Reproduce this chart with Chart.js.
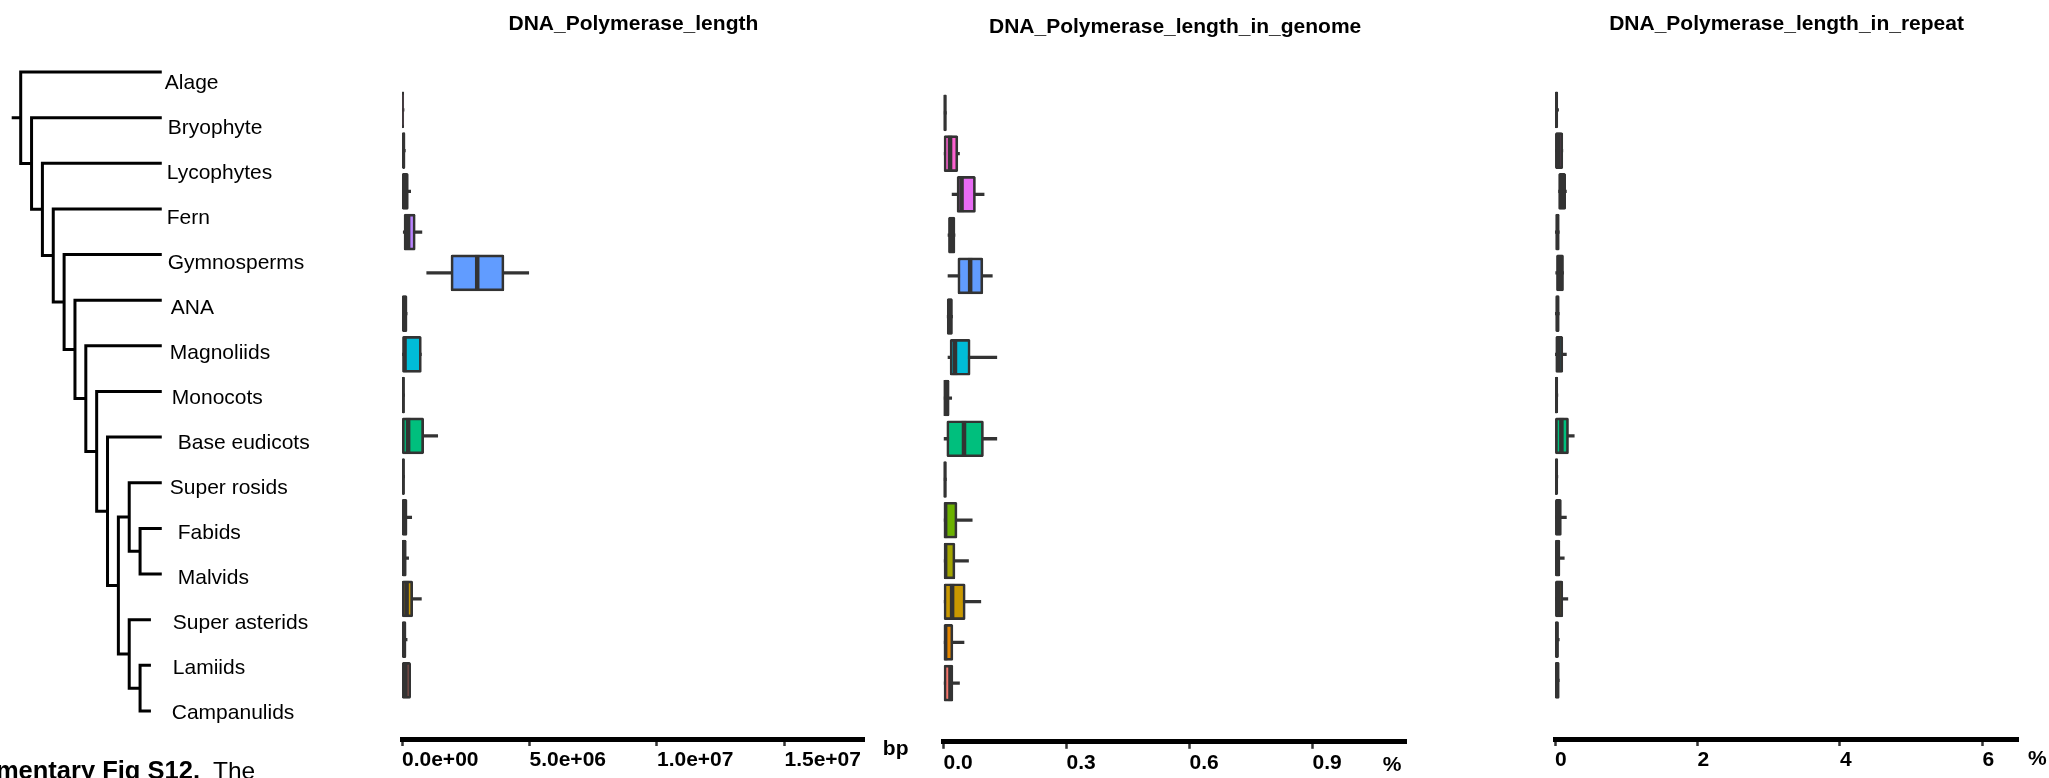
<!DOCTYPE html>
<html>
<head>
<meta charset="utf-8">
<script src="https://cdn.jsdelivr.net/npm/chart.js@4.4.0/dist/chart.umd.min.js"></script>
<style>
  body { margin: 0; background: #fff; width: 2049px; height: 778px; overflow: hidden; position: relative;
         font-family: "Liberation Sans", Arial, Helvetica, sans-serif; }
  canvas { position: absolute; top: 0; }
  .cap { position: absolute; top: 758px; line-height: 25px; white-space: nowrap; color: #000; }
</style>
</head>
<body>
<canvas id="tree" width="380" height="778" style="left:0"></canvas>
<canvas id="p1" width="560" height="778" style="left:370px"></canvas>
<canvas id="p2" width="560" height="778" style="left:900px"></canvas>
<canvas id="p3" width="549" height="778" style="left:1500px"></canvas>
<div class="cap" style="right:1849px;font-weight:bold;font-size:25.5px">Supplementary Fig S12.</div>
<div class="cap" style="left:213px;font-size:24.5px">The</div>

<script>
const groups = ['Alage', 'Bryophyte', 'Lycophytes', 'Fern', 'Gymnosperms', 'ANA', 'Magnoliids', 'Monocots',
  'Base eudicots', 'Super rosids', 'Fabids', 'Malvids', 'Super asterids', 'Lamiids', 'Campanulids'];
const groupColors = ['#FF67A4', '#FD61D1', '#E76BF3', '#B983FF', '#619CFF', '#00B0F6', '#00BCD8', '#00C0AF',
  '#00BF7D', '#00BA38', '#6BB100', '#A3A500', '#C99800', '#E58700', '#F8766D'];

// cladogram topology, tips end at these depths
const tree = ['Alage', ['Bryophyte', ['Lycophytes', ['Fern', ['Gymnosperms', ['ANA', ['Magnoliids', ['Monocots',
  ['Base eudicots', [['Super rosids', ['Fabids', 'Malvids']], ['Super asterids', ['Lamiids', 'Campanulids']]]]]]]]]]]];
const tipEnd = [13, 13, 13, 13, 13, 13, 13, 13, 13, 13, 13, 13, 12, 12, 12];

const titles = ['DNA_Polymerase_length', 'DNA_Polymerase_length_in_genome', 'DNA_Polymerase_length_in_repeat'];
const units = ['bp', '%', '%'];
const lenTicks = [0, 5e6, 1e7, 1.5e7];
const genTicks = [0, 0.3, 0.6, 0.9];
const repTicks = [0, 2, 4, 6];

// DNA_Polymerase_length (bp)
const lenMin = [0, 0, 0, 5e4, 9.7e5, 0, 0, 0, 0, 0, 0, 0, 0, 0, 0];
const lenQ1  = [5e3, 1e4, 1e4, 8e4, 1.92e6, 1e4, 2e4, 5e3, 1e4, 5e3, 5e3, 5e3, 5e3, 5e3, 5e3];
const lenMed = [3e4, 5e4, 1e5, 2.4e5, 2.95e6, 8e4, 1e5, 4e4, 2.4e5, 4e4, 8e4, 7e4, 1.8e5, 6e4, 1.4e5];
const lenQ3  = [7e4, 1.2e5, 2.5e5, 5.2e5, 4.0e6, 2e5, 7.6e5, 1e5, 8.5e5, 1e5, 2e5, 1.7e5, 4.2e5, 1.6e5, 3.4e5];
const lenMax = [8e4, 1.3e5, 3.4e5, 7.8e5, 4.97e6, 2e5, 7.6e5, 1e5, 1.4e6, 1e5, 3.8e5, 2.6e5, 7.6e5, 2e5, 3.4e5];

// DNA_Polymerase_length_in_genome (%)
const genMin = [0, 0, 0.021, 0.011, 0.011, 0.009, 0.011, 0, 0.001, 0, 0, 0, 0, 0, 0];
const genQ1  = [0, 0.001, 0.033, 0.012, 0.035, 0.009, 0.016, 0, 0.008, 0, 0.001, 0.001, 0.001, 0.001, 0.001];
const genMed = [0.003, 0.016, 0.044, 0.02, 0.065, 0.015, 0.028, 0.005, 0.05, 0.003, 0.004, 0.004, 0.021, 0.004, 0.017];
const genQ3  = [0.007, 0.035, 0.078, 0.028, 0.096, 0.022, 0.065, 0.014, 0.0975, 0.007, 0.033, 0.028, 0.053, 0.023, 0.023];
const genMax = [0.007, 0.039, 0.099, 0.028, 0.119, 0.022, 0.13, 0.02, 0.13, 0.007, 0.07, 0.061, 0.091, 0.05, 0.039];

// DNA_Polymerase_length_in_repeat (%)
const repMin = [0, 0, 0.05, 0.005, 0.01, 0.005, 0.005, 0, 0, 0, 0, 0, 0, 0, 0];
const repQ1  = [0.002, 0.005, 0.05, 0.01, 0.02, 0.01, 0.01, 0.002, 0.005, 0.002, 0.005, 0.005, 0.005, 0.002, 0.002];
const repMed = [0.02, 0.05, 0.1, 0.03, 0.07, 0.03, 0.05, 0.02, 0.09, 0.02, 0.04, 0.03, 0.05, 0.02, 0.03];
const repQ3  = [0.04, 0.11, 0.15, 0.06, 0.12, 0.06, 0.11, 0.04, 0.19, 0.04, 0.09, 0.07, 0.11, 0.05, 0.06];
const repMax = [0.05, 0.11, 0.16, 0.06, 0.12, 0.06, 0.16, 0.04, 0.27, 0.04, 0.16, 0.13, 0.18, 0.06, 0.06];

Chart.defaults.font.family = '"Liberation Sans", Arial, Helvetica, sans-serif';
Chart.defaults.color = '#000';
const INK = '#333333';

// ---------- tree ----------
function layoutTree(node, depth, segs) {
  if (typeof node === 'string') {
    const i = groups.indexOf(node);
    return { x: tipEnd[i], y: i };
  }
  const kids = node.map(k => layoutTree(k, depth + 1, segs));
  const a = kids[0], b = kids[kids.length - 1];
  segs.push({x: a.x, y: a.y}, {x: depth, y: a.y}, {x: depth, y: b.y}, {x: b.x, y: b.y}, {x: null, y: null});
  return { x: depth, y: (a.y + b.y) / 2 };
}
const treeSegs = [];
const rootNode = layoutTree(tree, 0, treeSegs);
treeSegs.push({x: -0.83, y: rootNode.y}, {x: 0, y: rootNode.y});

const LABEL_NUDGE = [-2, 1, 0, 0, 1, 4, 3, 5, 11, 3, 11, 11, 6, 6, 5];
const leafLabels = {
  id: 'leafLabels',
  afterDatasetsDraw(chart) {
    const {x, y} = chart.scales;
    const ctx = chart.ctx;
    ctx.save();
    ctx.font = '21px "Liberation Sans", Arial, sans-serif';
    ctx.fillStyle = '#000';
    ctx.textBaseline = 'middle';
    groups.forEach((g, i) => {
      ctx.fillText(g, x.getPixelForValue(13) + 5 + LABEL_NUDGE[i], y.getPixelForValue(i) + 11 - 0.6 * i);
    });
    ctx.restore();
  }
};

new Chart(document.getElementById('tree'), {
  type: 'scatter',
  data: { datasets: [{ data: treeSegs, showLine: true, borderColor: '#000', borderWidth: 3, pointRadius: 0,
    spanGaps: false, borderJoinStyle: 'miter', borderCapStyle: 'butt', clip: false }] },
  options: {
    responsive: false, animation: false, devicePixelRatio: 1, events: [],
    layout: { padding: 0 },
    scales: {
      x: { type: 'linear', display: false, min: -1.908, max: 33.11 },
      y: { type: 'linear', display: false, min: -1.5776, max: 15.469, reverse: true }
    },
    plugins: { legend: { display: false }, tooltip: { enabled: false } }
  },
  plugins: [leafLabels]
});

// ---------- box plots ----------
const medianPlugin = {
  id: 'medians',
  afterDatasetsDraw(chart) {
    const ds = chart.data.datasets[0];
    const {x, y} = chart.scales;
    const ctx = chart.ctx;
    ctx.save();
    ctx.strokeStyle = INK;
    ctx.lineWidth = 4.5;
    ds.medians.forEach((m, i) => {
      const a = x.getPixelForValue(ds.data[i].x[0]);
      const b = x.getPixelForValue(ds.data[i].x[1]);
      const py = y.getPixelForValue(i);
      ctx.save();
      ctx.beginPath();
      ctx.rect(a, py - 18, b - a, 36);
      ctx.clip();
      const px = x.getPixelForValue(m);
      ctx.beginPath();
      ctx.moveTo(px, py - 18);
      ctx.lineTo(px, py + 18);
      ctx.stroke();
      ctx.restore();
    });
    ctx.restore();
  }
};

const unitPlugin = {
  id: 'unitLabel',
  afterDraw(chart, args, opts) {
    const ctx = chart.ctx;
    const area = chart.chartArea;
    ctx.save();
    ctx.font = 'bold 21px "Liberation Sans", Arial, sans-serif';
    ctx.fillStyle = '#000';
    ctx.textBaseline = 'alphabetic';
    ctx.fillText(opts.text, area.right + opts.dx, area.bottom + opts.dy);
    ctx.restore();
  }
};

function sci(v) {
  const [m, e] = Number(v).toExponential(1).split('e');
  const sign = e[0] === '-' ? '-' : '+';
  return m + 'e' + sign + e.replace(/[+-]/, '').padStart(2, '0');
}

function boxChart(id, p) {
  const idx = groups.map((g, i) => i);
  return new Chart(document.getElementById(id), {
    type: 'bar',
    data: {
      datasets: [
        { label: 'box', data: idx.map(i => ({ y: i, x: [p.q1[i], p.q3[i]] })), medians: p.med,
          backgroundColor: groupColors, borderColor: INK, borderWidth: 2.7, borderSkipped: false, borderRadius: 1.5,
          barThickness: 36, maxBarThickness: 36, grouped: false },
        { label: 'whisker', data: idx.map(i => ({ y: i, x: [p.lo[i], p.hi[i]] })),
          backgroundColor: INK, borderWidth: 0, barThickness: 2.6, maxBarThickness: 2.6, grouped: false }
      ]
    },
    options: {
      indexAxis: 'y', responsive: false, animation: false, devicePixelRatio: 1, events: [],
      layout: { padding: p.pad },
      scales: {
        x: { type: 'linear', min: 0, max: p.max,
             afterBuildTicks: s => { s.ticks = p.ticks.map(v => ({ value: v })); },
             border: { display: true, width: 5, color: '#000' },
             grid: { drawOnChartArea: false, drawTicks: true, tickLength: 7, tickWidth: 2.5, tickColor: INK },
             ticks: { align: 'start', padding: 2, autoSkip: false, maxRotation: 0,
                      font: { size: 21, weight: 'bold' }, color: '#000', callback: p.fmt } },
        y: { type: 'linear', display: false, min: -0.5, max: 14.6, reverse: true }
      },
      plugins: {
        legend: { display: false }, tooltip: { enabled: false },
        title: { display: true, text: p.title, font: { size: 21, weight: 'bold' }, color: '#000', padding: p.titlePad },
        unitLabel: p.unit
      }
    },
    plugins: [medianPlugin, unitPlugin]
  });
}

boxChart('p1', {
  title: titles[0], lo: lenMin, q1: lenQ1, med: lenMed, q3: lenQ3, hi: lenMax,
  max: 1.815e7, ticks: lenTicks, fmt: v => sci(v),
  pad: { left: 32, right: 65.2, top: 0, bottom: 2.8 }, titlePad: { top: 11.4, bottom: 18.7 },
  unit: { text: units[0], dx: 18, dy: 16.3 }
});
boxChart('p2', {
  title: titles[1], lo: genMin, q1: genQ1, med: genMed, q3: genQ3, hi: genMax,
  max: 1.13, ticks: genTicks, fmt: v => Number(v).toFixed(1),
  pad: { left: 43.5, right: 53.2, top: 0, bottom: 0 }, titlePad: { top: 14.4, bottom: 18.7 },
  unit: { text: units[1], dx: -24, dy: 28.7 }
});
boxChart('p3', {
  title: titles[2], lo: repMin, q1: repQ1, med: repMed, q3: repQ3, hi: repMax,
  max: 6.5, ticks: repTicks, fmt: v => String(Math.round(v)),
  pad: { left: 55, right: 30.9, top: 0, bottom: 2.8 }, titlePad: { top: 11.4, bottom: 18.7 },
  unit: { text: units[2], dx: 10, dy: 25.7 }
});
</script>
</body>
</html>
